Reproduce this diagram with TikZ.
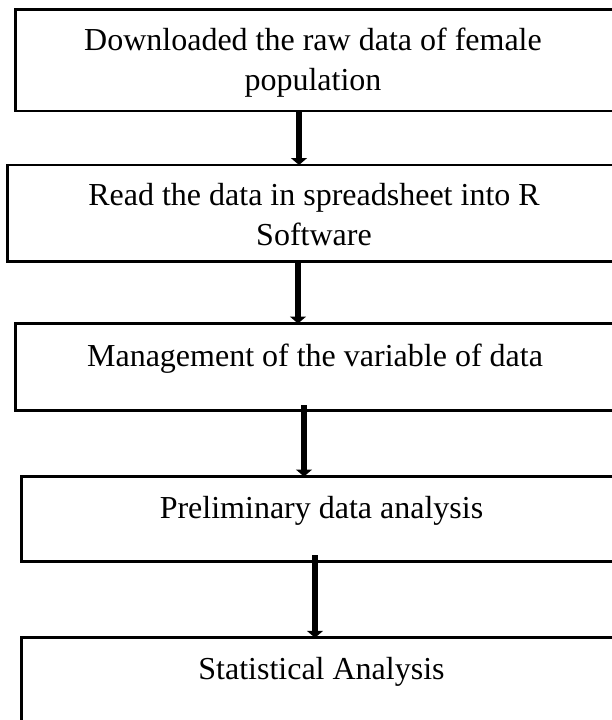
\documentclass[tikz,border=0pt]{standalone}
\usepackage{fontspec}
\setmainfont{Liberation Serif}
\usetikzlibrary{arrows.meta}
\begin{document}
\begin{tikzpicture}[x=1pt,y=-1pt,
  flowbox/.style={draw=black, line width=2.7pt, inner sep=0pt, outer sep=0pt},
  boxtext/.style={font=\fontsize{32}{40}\selectfont, align=center, inner sep=0pt, anchor=north},
  flowarrow/.style={line width=6.5pt, -{Triangle[width=16pt,length=7pt]}}]
\clip (0,0) rectangle (612,720);
\fill[white] (0,0) rectangle (612,720);
% boxes (their right sides run past the right edge of the picture)
\node[flowbox, minimum width=604.4pt, minimum height=101.7pt] (b1) at (317.8,60.15) {};
\node[flowbox, minimum width=612.2pt, minimum height=96.7pt] (b2) at (313.9,213.35) {};
\node[flowbox, minimum width=604.4pt, minimum height=87pt] (b3) at (317.8,367) {};
\node[flowbox, minimum width=603.4pt, minimum height=85.2pt] (b4) at (323.3,519.1) {};
\node[flowbox, minimum width=603.4pt, minimum height=122.2pt] (b5) at (323.3,698.9) {};
% texts
\node[boxtext] (t1) at (313,28.1) {Downloaded the raw data of female\\population};
\node[boxtext] (t2) at (314,183.1) {Read the data in spreadsheet into R\\Software};
\node[boxtext] (t3) at (315,343.6) {Management of the variable of data};
\node[boxtext] (t4) at (321.5,496.1) {Preliminary data analysis};
\node[boxtext] (t5) at (321.5,657.1) {Statistical Analysis};
% arrow columns
\coordinate (c1) at (299,0);
\coordinate (c2) at (298,0);
\coordinate (c3) at (304,0);
\coordinate (c4) at (315,0);
\draw[flowarrow] (c1 |- b1.south) -- (c1 |- b2.north);
\draw[flowarrow] (c2 |- b2.south) -- (c2 |- b3.north);
\draw[flowarrow] ([yshift=5.5pt]c3 |- b3.south) -- (c3 |- b4.north);
\draw[flowarrow] ([yshift=6.5pt]c4 |- b4.south) -- (c4 |- b5.north);
\end{tikzpicture}
\end{document}
